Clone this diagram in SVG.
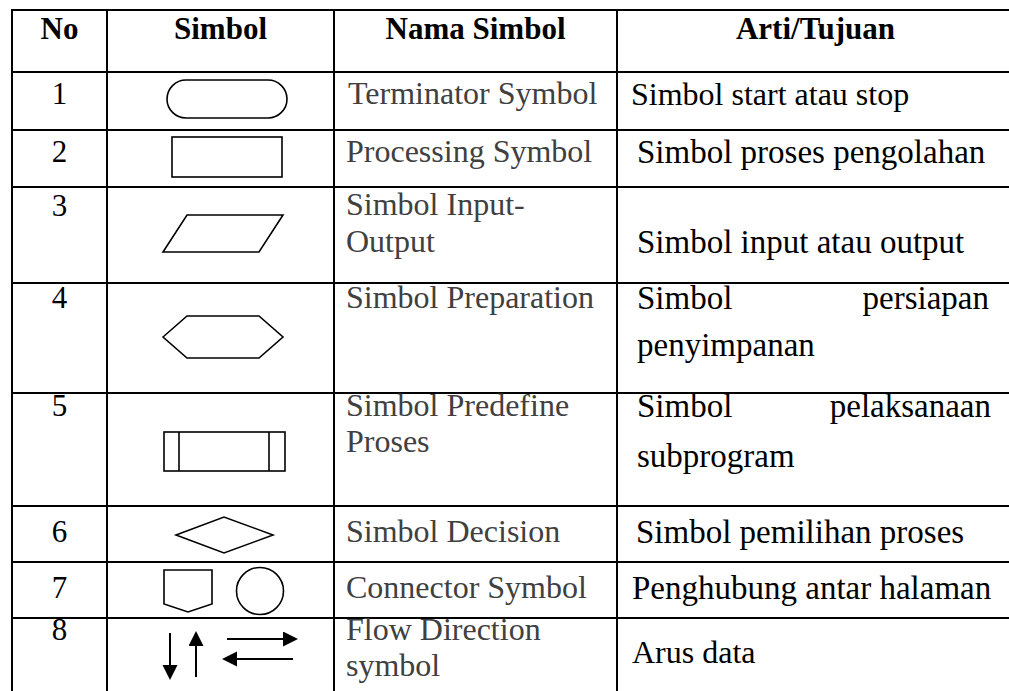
<svg xmlns="http://www.w3.org/2000/svg" width="1009" height="691" viewBox="0 0 1009 691">
<style>
.grid{stroke:#000;stroke-width:2;fill:none}
.shp{stroke:#000;stroke-width:1.6;fill:none}
.hd{font-family:"Liberation Serif","Times New Roman",serif;font-weight:bold;font-size:31px;fill:#000;text-anchor:middle}
.num{font-family:"Liberation Serif","Times New Roman",serif;font-size:31px;fill:#000;text-anchor:middle}
.nm{font-family:"Liberation Serif","Times New Roman",serif;font-size:32px;fill:#404040}
.ar{font-family:"Liberation Serif","Times New Roman",serif;font-size:33px;fill:#000}
.ar1{font-family:"Liberation Serif","Times New Roman",serif;font-size:32px;fill:#000}
.arr{stroke:#000;stroke-width:2;fill:none}
</style>
<defs>
<marker id="ah" markerUnits="userSpaceOnUse" markerWidth="16" markerHeight="16" refX="0" refY="7.5" orient="auto">
<path d="M0,0 L15,7.5 L0,15 Z" fill="#000"/>
</marker>
</defs>
<g id="grid">
<line class="grid" x1="12" y1="10" x2="1009" y2="10"/>
<line class="grid" x1="12" y1="72" x2="1009" y2="72"/>
<line class="grid" x1="12" y1="130" x2="1009" y2="130"/>
<line class="grid" x1="12" y1="187" x2="1009" y2="187"/>
<line class="grid" x1="12" y1="283" x2="1009" y2="283"/>
<line class="grid" x1="12" y1="393" x2="1009" y2="393"/>
<line class="grid" x1="12" y1="506" x2="1009" y2="506"/>
<line class="grid" x1="12" y1="562" x2="1009" y2="562"/>
<line class="grid" x1="12" y1="618" x2="1009" y2="618"/>
<line class="grid" x1="12" y1="9" x2="12" y2="691"/>
<line class="grid" x1="107" y1="9" x2="107" y2="691"/>
<line class="grid" x1="334" y1="9" x2="334" y2="691"/>
<line class="grid" x1="617" y1="9" x2="617" y2="691"/>
</g>
<g id="header">
<text class="hd" x="59.5" y="39">No</text>
<text class="hd" x="220.5" y="39">Simbol</text>
<text class="hd" x="475.5" y="39">Nama Simbol</text>
<text class="hd" x="815.5" y="39">Arti/Tujuan</text>
</g>
<g id="row1">
<text class="num" x="59.5" y="104">1</text>
<rect class="shp" x="167" y="80" width="120" height="38" rx="19"/>
<text class="nm" x="348" y="104">Terminator Symbol</text>
<text class="ar1" x="631" y="105">Simbol start atau stop</text>
</g>
<g id="row2">
<text class="num" x="59.5" y="162">2</text>
<rect class="shp" x="172" y="137" width="110" height="40"/>
<text class="nm" x="346" y="162">Processing Symbol</text>
<text class="ar" x="637" y="163">Simbol proses pengolahan</text>
</g>
<g id="row3">
<text class="num" x="59.5" y="216">3</text>
<polygon class="shp" points="187,215 283,215 259,252 163,252"/>
<text class="nm" x="346" y="215">Simbol Input-</text>
<text class="nm" x="346" y="252">Output</text>
<text class="ar" x="637" y="253">Simbol input atau output</text>
</g>
<g id="row4">
<text class="num" x="59.5" y="308">4</text>
<polygon class="shp" points="163,337 187,316 259,316 283,337 259,358 187,358"/>
<text class="nm" x="346" y="308">Simbol Preparation</text>
<text class="ar" x="637" y="309">Simbol</text>
<text class="ar" x="989" y="309" text-anchor="end">persiapan</text>
<text class="ar" x="637" y="356">penyimpanan</text>
</g>
<g id="row5">
<text class="num" x="59.5" y="416">5</text>
<rect class="shp" x="164" y="432" width="121" height="39"/>
<line class="shp" x1="179" y1="432" x2="179" y2="471"/>
<line class="shp" x1="269" y1="432" x2="269" y2="471"/>
<text class="nm" x="346" y="416">Simbol Predefine</text>
<text class="nm" x="346" y="452">Proses</text>
<text class="ar" x="637" y="417">Simbol</text>
<text class="ar" x="991" y="417" text-anchor="end">pelaksanaan</text>
<text class="ar" x="637" y="467">subprogram</text>
</g>
<g id="row6">
<text class="num" x="59.5" y="542">6</text>
<polygon class="shp" points="176,535 224,517 273,535 224,553"/>
<text class="nm" x="346" y="542">Simbol Decision</text>
<text class="ar" x="636" y="543">Simbol pemilihan proses</text>
</g>
<g id="row7">
<text class="num" x="59.5" y="598">7</text>
<polygon class="shp" points="164,570 212,570 212,604 188,612 164,604"/>
<circle class="shp" cx="260" cy="591" r="23.5"/>
<text class="nm" x="346" y="598">Connector Symbol</text>
<text class="ar" x="632" y="599">Penghubung antar halaman</text>
</g>
<g id="row8">
<text class="num" x="59.5" y="640">8</text>
<text class="nm" x="346" y="640">Flow Direction</text>
<text class="nm" x="346" y="676">symbol</text>
<text class="ar1" x="632" y="663">Arus data</text>
</g>
<g id="connectors">
<line class="arr" x1="170" y1="633" x2="170" y2="665" marker-end="url(#ah)"/>
<line class="arr" x1="196" y1="677" x2="196" y2="646" marker-end="url(#ah)"/>
<line class="arr" x1="227" y1="639" x2="283" y2="639" marker-end="url(#ah)"/>
<line class="arr" x1="293" y1="659" x2="237" y2="659" marker-end="url(#ah)"/>
</g>
</svg>
